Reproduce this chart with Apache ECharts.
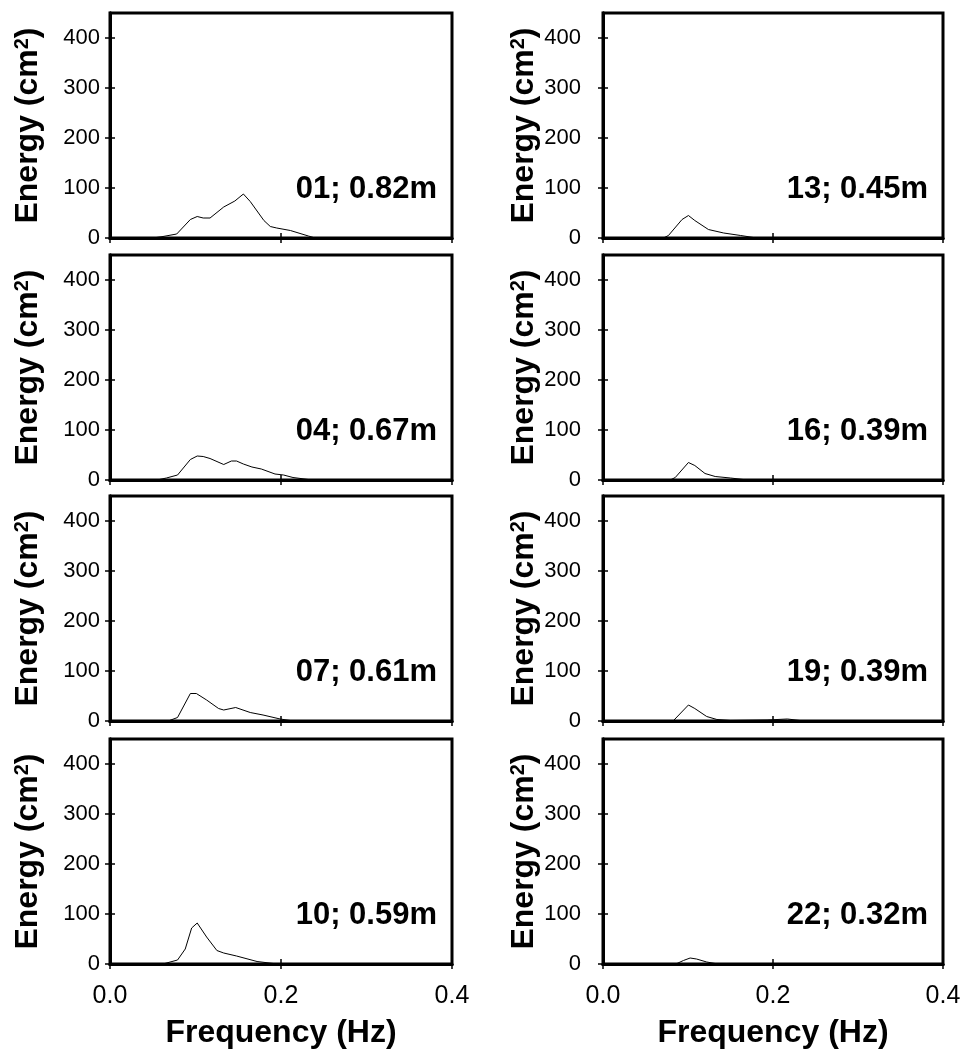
<!DOCTYPE html>
<html>
<head>
<meta charset="utf-8">
<script src="https://cdn.jsdelivr.net/npm/echarts@6/dist/echarts.min.js"></script>
<style>
html,body{margin:0;padding:0;background:#fff;}
#chart{width:966px;height:1055px;}
</style>
</head>
<body>
<div id="chart"></div>
<script>
// ---- data (frequency in Hz, energy in cm^2) ----
const panelIds = ['01', '04', '07', '10', '13', '16', '19', '22'];
const panelHs = ['0.82m', '0.67m', '0.61m', '0.59m', '0.45m', '0.39m', '0.39m', '0.32m'];

const f01 = [0, 0.05, 0.062, 0.078, 0.094, 0.102, 0.109, 0.117, 0.133, 0.146, 0.156, 0.164, 0.18, 0.1875, 0.195, 0.211, 0.232, 0.24, 0.4];
const e01 = [0, 0, 3, 8, 37, 43, 40, 40, 62, 74, 88, 73, 35, 23, 20, 15, 4, 0, 0];

const f04 = [0, 0.055, 0.066, 0.079, 0.094, 0.102, 0.109, 0.117, 0.133, 0.142, 0.148, 0.156, 0.166, 0.177, 0.193, 0.203, 0.214, 0.232, 0.24, 0.4];
const e04 = [0, 0, 4, 10, 41, 48, 47, 43, 31, 38, 38, 32, 26, 22, 12, 10, 5, 1, 0, 0];

const f07 = [0, 0.068, 0.079, 0.094, 0.101, 0.113, 0.127, 0.133, 0.147, 0.164, 0.179, 0.199, 0.211, 0.22, 0.4];
const e07 = [0, 0, 7, 55, 55, 42, 25, 22, 27, 17, 12, 4, 1, 0, 0];

const f10 = [0, 0.064, 0.079, 0.088, 0.0955, 0.102, 0.113, 0.125, 0.133, 0.148, 0.172, 0.191, 0.2, 0.4];
const e10 = [0, 1, 8, 30, 72, 82, 54, 27, 22, 16, 5, 1, 0, 0];

const f13 = [0, 0.071, 0.077, 0.093, 0.1005, 0.108, 0.124, 0.142, 0.162, 0.177, 0.19, 0.4];
const e13 = [0, 0, 5, 37, 45, 35, 17, 10, 5, 1, 0, 0];

const f16 = [0, 0.079, 0.085, 0.1005, 0.108, 0.12, 0.132, 0.15, 0.165, 0.18, 0.4];
const e16 = [0, 0, 5, 35, 29, 13, 7, 4, 1, 0, 0];

const f19 = [0, 0.083, 0.1005, 0.108, 0.122, 0.134, 0.15, 0.193, 0.217, 0.232, 0.24, 0.4];
const e19 = [0, 1, 32, 25, 9, 3, 1, 2, 4, 1, 0, 0];

const f22 = [0, 0.087, 0.0946, 0.1025, 0.11, 0.122, 0.132, 0.4];
const e22 = [0, 1, 7, 12, 10, 4, 1, 0];

const yTicks = [0, 100, 200, 300, 400];
const xTicks = [0, 0.2, 0.4];

const freqs = [f01, f04, f07, f10, f13, f16, f19, f22];
const energies = [e01, e04, e07, e10, e13, e16, e19, e22];

// ---- layout ----
const FONT = "'Liberation Sans', Arial, Helvetica, sans-serif";
const colLeft = [110, 603];
const colWidth = [342, 340];
const rowTop = [13, 255, 496, 739];
const rowH = 225;
const yLabelMargin = [10, 22];
const yNameGap = [66, 62];

const chart = echarts.init(document.getElementById('chart'), null, {renderer: 'canvas'});

const grids = [], xAxes = [], yAxes = [], series = [], graphics = [];

for (let i = 0; i < 8; i++) {
  const col = i < 4 ? 0 : 1;
  const row = i % 4;
  const isBottom = row === 3;
  grids.push({
    left: colLeft[col], top: rowTop[row], width: colWidth[col], height: rowH,
    show: true, borderColor: '#000', borderWidth: 3, backgroundColor: 'transparent'
  });
  const gx = 2 * i, gy = 2 * i;
  // bottom x axis
  xAxes.push({
    type: 'value', gridIndex: i, min: 0, max: 0.4, interval: 0.2, position: 'bottom',
    axisLine: {show: true, lineStyle: {color: '#000', width: 3}},
    axisTick: {show: true, length: 5, lineStyle: {color: '#000', width: 1.5}, customValues: xTicks},
    splitLine: {show: false},
    axisLabel: {
      show: isBottom, customValues: xTicks, margin: 20, color: '#000', fontFamily: FONT, fontSize: 25,
      formatter: v => v.toFixed(1)
    },
    name: isBottom ? 'Frequency (Hz)' : '',
    nameLocation: 'middle', nameGap: 53,
    nameTextStyle: {color: '#000', fontFamily: FONT, fontSize: 32, fontWeight: 'bold'}
  });
  // top x axis (ticks only)
  xAxes.push({
    type: 'value', gridIndex: i, min: 0, max: 0.4, interval: 0.2, position: 'top',
    axisLine: {show: true, lineStyle: {color: '#000', width: 3}},
    axisTick: {show: true, length: 5, lineStyle: {color: '#000', width: 1.5}, customValues: xTicks},
    splitLine: {show: false}, axisLabel: {show: false}
  });
  // left y axis
  yAxes.push({
    type: 'value', gridIndex: i, min: 0, max: 450, interval: 100, position: 'left',
    axisLine: {show: true, lineStyle: {color: '#000', width: 3}},
    axisTick: {show: true, length: 5, lineStyle: {color: '#000', width: 1.5}, customValues: yTicks},
    splitLine: {show: false},
    axisLabel: {customValues: yTicks, margin: yLabelMargin[col], color: '#000', fontFamily: FONT, fontSize: 22},
    name: 'Energy (cm{sup|2})',
    nameLocation: 'middle', nameGap: yNameGap[col], nameRotate: 90,
    nameTextStyle: {
      color: '#000', fontFamily: FONT, fontSize: 32, fontWeight: 'bold',
      rich: {sup: {fontFamily: FONT, fontSize: 20, fontWeight: 'bold', color: '#000', verticalAlign: 'top', padding: [0, 0, 11, 0]}}
    }
  });
  // right y axis (ticks only)
  yAxes.push({
    type: 'value', gridIndex: i, min: 0, max: 450, interval: 100, position: 'right',
    axisLine: {show: true, lineStyle: {color: '#000', width: 3}},
    axisTick: {show: true, length: 5, lineStyle: {color: '#000', width: 1.5}, customValues: yTicks},
    splitLine: {show: false}, axisLabel: {show: false}
  });
  series.push({
    type: 'line', xAxisIndex: gx, yAxisIndex: gy,
    data: freqs[i].map((f, k) => [f, energies[i][k]]),
    showSymbol: false, symbol: 'none', smooth: false,
    lineStyle: {color: '#000', width: 1}, silent: true, animation: false
  });
  graphics.push({
    type: 'text',
    x: colLeft[col] + colWidth[col] - 15,
    y: rowTop[row] + rowH - 49,
    style: {
      text: panelIds[i] + '; ' + panelHs[i],
      fill: '#000', font: 'bold 31px ' + FONT,
      textAlign: 'right', textVerticalAlign: 'middle'
    }
  });
}

chart.setOption({
  animation: false,
  backgroundColor: '#fff',
  grid: grids, xAxis: xAxes, yAxis: yAxes, series: series, graphic: graphics
});
</script>
</body>
</html>
